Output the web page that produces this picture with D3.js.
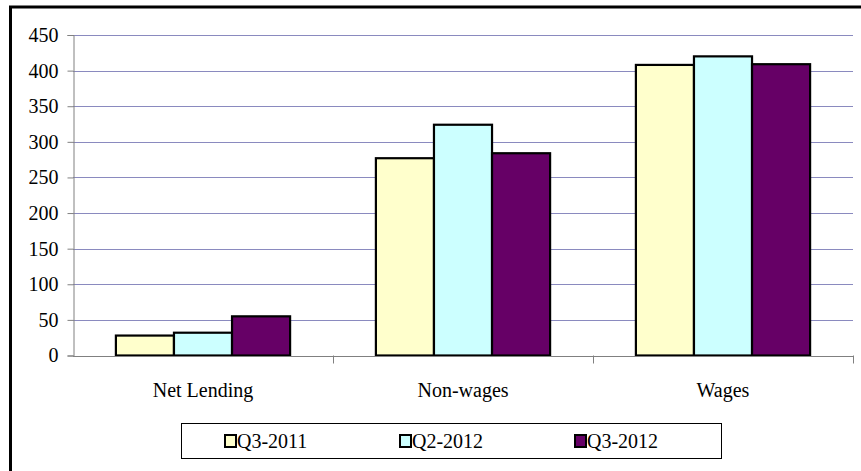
<!DOCTYPE html>
<html>
<head>
<meta charset="utf-8">
<script src="https://cdn.jsdelivr.net/npm/d3@7"></script>
</head>
<body style="margin:0">
<svg id="fig" width="861" height="471"></svg>
<script>
// Categories, series and values
const categories = ["Net Lending", "Non-wages", "Wages"];
const seriesNames = ["Q3-2011", "Q2-2012", "Q3-2012"];
const seriesColors = ["#FFFFCC", "#CCFFFF", "#660066"];
const q3_2011 = [28, 277, 408];
const q2_2012 = [32, 324, 420];
const q3_2012 = [55, 284, 409];
const yTicks = [0, 50, 100, 150, 200, 250, 300, 350, 400, 450];

const FONT = "'Liberation Serif'";

const seriesValues = [q3_2011, q2_2012, q3_2012];
const rows = categories.map((c, i) => ({
  category: c,
  values: seriesNames.map((s, j) => ({ series: s, value: seriesValues[j][i], color: seriesColors[j] }))
}));

const svg = d3.select("#fig");

// Outer frame
svg.append("rect")
  .attr("x", 10.5).attr("y", 7)
  .attr("width", 900).attr("height", 500)
  .attr("fill", "#fff").attr("stroke", "#000").attr("stroke-width", 3);

const plot = { left: 73, right: 853, top: 35, bottom: 355.5 };

const x = d3.scaleBand().domain(categories).range([plot.left, plot.right]).paddingInner(0).paddingOuter(0);
const bw = x.bandwidth();
const groupW = bw * 0.67;
const x1 = d3.scaleBand().domain(seriesNames).range([(bw - groupW) / 2, (bw + groupW) / 2]).padding(0);
const y = d3.scaleLinear().domain([0, 450]).range([plot.bottom, plot.top]);

// Horizontal gridlines
svg.append("g").selectAll("line")
  .data(yTicks.filter(t => t > 0))
  .join("line")
  .attr("x1", plot.left).attr("x2", plot.right)
  .attr("y1", d => Math.round(y(d)) + 0.5).attr("y2", d => Math.round(y(d)) + 0.5)
  .attr("stroke", "#8a8abf").attr("stroke-width", 1);

// Y axis
const yAxis = d3.axisLeft(y).tickValues(yTicks).tickSize(6).tickPadding(9).tickFormat(d3.format("d"));
const gy = svg.append("g").attr("transform", `translate(${plot.left + 0.5},0)`).call(yAxis);
gy.attr("font-family", FONT).attr("font-size", 20);
gy.select(".domain").attr("stroke", "#808080");
gy.selectAll(".tick line").attr("stroke", "#808080");
gy.selectAll(".tick text").attr("font-family", FONT).attr("font-size", 20).attr("fill", "#000");

// Bars
const groups = svg.append("g").selectAll("g")
  .data(rows)
  .join("g")
  .attr("transform", d => `translate(${x(d.category)},0)`);

groups.selectAll("rect")
  .data(d => d.values)
  .join("rect")
  .attr("x", d => x1(d.series))
  .attr("y", d => y(d.value))
  .attr("width", x1.bandwidth())
  .attr("height", d => y(0) - y(d.value))
  .attr("fill", d => d.color)
  .attr("stroke", "#000")
  .attr("stroke-width", 2.2);

// X axis
const xAxis = d3.axisBottom(x).tickSize(0).tickPadding(26);
const gx = svg.append("g").attr("transform", `translate(0,${Math.round(plot.bottom) + 0.5})`).call(xAxis);
gx.attr("font-family", FONT).attr("font-size", 20);
gx.select(".domain").attr("stroke", "#808080").attr("d", `M${plot.left},0H${plot.right}`);
gx.selectAll(".tick text").attr("font-family", FONT).attr("font-size", 20).attr("fill", "#000");

// Category separators
const sepX = categories.map(c => x(c)).slice(1).concat([plot.right]);
svg.append("g").selectAll("line")
  .data(sepX)
  .join("line")
  .attr("x1", d => Math.round(d) + 0.5).attr("x2", d => Math.round(d) + 0.5)
  .attr("y1", plot.bottom).attr("y2", plot.bottom + 8)
  .attr("stroke", "#808080").attr("stroke-width", 1);

// Legend
const legend = svg.append("g");
legend.append("rect")
  .attr("x", 181.5).attr("y", 423.5).attr("width", 540).attr("height", 35)
  .attr("fill", "#fff").attr("stroke", "#000").attr("stroke-width", 1);

const legendX = d3.scalePoint().domain(seriesNames).range([225, 575]);
const items = legend.selectAll("g.item")
  .data(seriesNames.map((s, i) => ({ name: s, color: seriesColors[i] })))
  .join("g")
  .attr("class", "item")
  .attr("transform", d => `translate(${legendX(d.name)},441)`);

items.append("rect")
  .attr("x", 0).attr("y", -6).attr("width", 11).attr("height", 12)
  .attr("fill", d => d.color).attr("stroke", "#000").attr("stroke-width", 2);

items.append("text")
  .attr("x", 12).attr("y", 0).attr("dy", "0.35em")
  .attr("font-family", FONT).attr("font-size", 20)
  .attr("fill", "#000")
  .text(d => d.name);
</script>
</body>
</html>
